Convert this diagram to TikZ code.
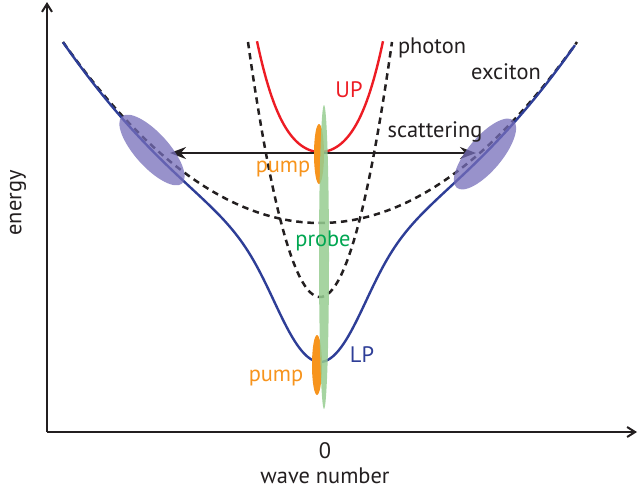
\documentclass[tikz,border=0pt]{standalone}
\usepackage{fontspec}
\setmainfont{PT Sans}
\usetikzlibrary{arrows.meta}
\definecolor{upred}{RGB}{237,28,36}
\definecolor{lpblue}{RGB}{46,62,151}
\definecolor{pumporange}{RGB}{247,148,29}
\definecolor{probegreen}{RGB}{150,205,145}
\definecolor{probetext}{RGB}{0,166,81}
\definecolor{excitonblob}{RGB}{118,110,186}
\definecolor{inkgray}{RGB}{35,31,32}
\begin{document}
\begin{tikzpicture}[x=0.5pt,y=-0.5pt,line width=1.2pt,font=\fontsize{11.2}{13}\selectfont,
  declare function={w(\t)=(\t-320)/100; hd(\t)=-0.37+2.323*w(\t)^2;},
  dispersion/.style={dash pattern=on 3.2pt off 2.4pt,line width=1.25pt,inkgray},
  axisline/.style={line width=1pt,inkgray,-{Straight Barb[length=4pt,width=5pt]}},
  lbl/.style={inner sep=1pt,text=inkgray}]
\useasboundingbox (0,0) rectangle (638,494);
% axes
\coordinate (O) at (47,432);
\coordinate (ytop) at (47,2);
\coordinate (xend) at (637,432);
\draw[axisline] (O)--(ytop);
\draw[axisline] (O)--(xend);
% bare exciton and photon
\draw[dispersion] plot[domain=63:577,samples=120] (\x,{223-27.4*w(\x)^2});
\draw[dispersion] plot[domain=248:392,samples=80] (\x,{297-492*w(\x)^2});
% polariton branches
\draw[lpblue] plot[domain=63:575,samples=200] (\x,{257-259.7*w(\x)^2+100*sqrt(hd(\x)^2+0.9656)});
\draw[upred] plot[domain=257:383,samples=80] (\x,{257-259.7*w(\x)^2-100*sqrt(hd(\x)^2+0.9656)});
% scattering
\coordinate (scL) at (170,153);
\coordinate (scR) at (476,153);
\draw[line width=1pt,inkgray,{Stealth[length=8pt,width=6pt]}-{Stealth[length=8pt,width=6pt]}] (scL)--(scR);
% pump and probe spots
\fill[pumporange] (319,154) ellipse [x radius=5, y radius=30];
\fill[pumporange] (317,365) ellipse [x radius=5, y radius=30];
\fill[probegreen,opacity=.85] (324,257) ellipse [x radius=5, y radius=152];
\fill[excitonblob,opacity=.75,shift={(152,150)},rotate=-48] (0,0) ellipse [x radius=45, y radius=17];
\fill[excitonblob,opacity=.75,shift={(485,154)},rotate=50] (0,0) ellipse [x radius=44, y radius=17];
% labels
\node[lbl,text=upred] (up) at (349,90) {UP};
\node[lbl] (photon) at (432,48) {photon};
\node[lbl] (exciton) at (506,72) {exciton};
\node[lbl] (scat) at (435,132) {scattering};
\node[lbl,text=pumporange] (pumpup) at (283,169) {pump};
\node[lbl,text=probetext] (probe) at (323,241) {probe};
\node[lbl,text=lpblue] (lp) at (362,355) {LP};
\node[lbl,text=pumporange] (pumplo) at (276,378) {pump};
\node[lbl,rotate=90] (energy) at (18,203) {energy};
\node[lbl] (zero) at (325,451) {0};
\node[lbl] (wave) at (325,476) {wave number};
\end{tikzpicture}
\end{document}
